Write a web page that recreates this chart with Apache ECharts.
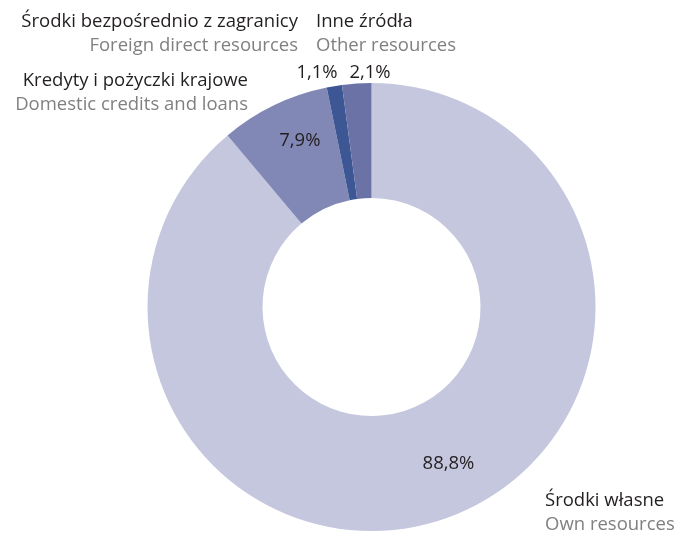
<!DOCTYPE html>
<html><head><meta charset="utf-8">
<script src="https://cdn.jsdelivr.net/npm/echarts@6/dist/echarts.min.js"></script>
<style>html,body{margin:0;padding:0;background:#fff}#c{width:680px;height:533px}</style>
</head><body><div id="c"></div>
<script>
const categoriesPl = ['Środki własne', 'Kredyty i pożyczki krajowe', 'Środki bezpośrednio z zagranicy', 'Inne źródła'];
const categoriesEn = ['Own resources', 'Domestic credits and loans', 'Foreign direct resources', 'Other resources'];
const values = [88.8, 7.9, 1.1, 2.1];
const colors = ['#c5c7de', '#8288b5', '#3d5795', '#6b72a6'];

const FONT = '"Open Sans", "Noto Sans", sans-serif';
const FS = 18.5;
const DARK = '#231f20', GREY = '#808080';
const fmt = v => v.toFixed(1).replace('.', ',') + '%';

// label anchor positions (layout only)
const pctLayout = [null, null, {x: 317, y: 73}, {x: 370, y: 73}];
const pctOffset = [[19, -3], [2, -14], [0, 0], [0, 0]];
const nameLayout = [
  {x: 545, y: 501, align: 'left'},
  {x: 248, y: 81, align: 'right'},
  {x: 298, y: 22, align: 'right'},
  {x: 316, y: 22, align: 'left'}
];

const chart = echarts.init(document.getElementById('c'));
const graphics = [];
categoriesPl.forEach((n, i) => {
  const L = nameLayout[i];
  graphics.push({type: 'text', x: L.x, y: L.y, style: {text: n, fill: DARK, font: FS + 'px ' + FONT, textAlign: L.align, textVerticalAlign: 'middle'}});
  graphics.push({type: 'text', x: L.x, y: L.y + 24, style: {text: categoriesEn[i], fill: GREY, font: FS + 'px ' + FONT, textAlign: L.align, textVerticalAlign: 'middle'}});
});

chart.setOption({
  animation: false,
  graphic: graphics,
  series: [{
    type: 'pie',
    center: [371.5, 307],
    radius: [109, 224],
    startAngle: 90,
    clockwise: true,
    avoidLabelOverlap: false,
    labelLine: {show: false},
    data: values.map((v, i) => ({
      value: v, name: categoriesPl[i],
      itemStyle: {color: colors[i]},
      label: {show: true, position: 'inside', offset: pctOffset[i], formatter: fmt(v), color: DARK, fontSize: FS, fontFamily: FONT}
    })),
    labelLayout: function (p) {
      const L = pctLayout[p.dataIndex];
      if (!L) return {};
      return {x: L.x, y: L.y, align: 'center', verticalAlign: 'middle'};
    }
  }]
});
</script></body></html>
